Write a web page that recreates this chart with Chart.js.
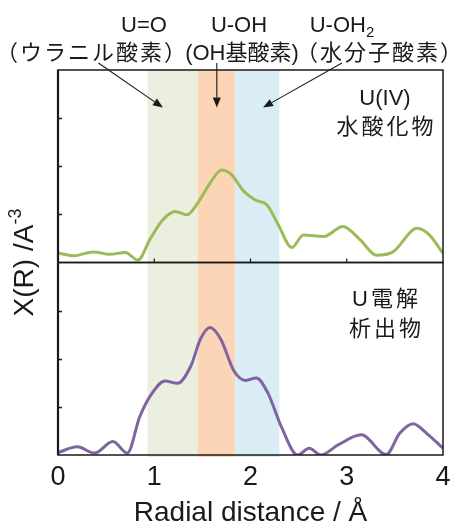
<!DOCTYPE html>
<html>
<head>
<meta charset="utf-8">
<script src="https://cdn.jsdelivr.net/npm/chart.js@4/dist/chart.umd.min.js"></script>
<style>
  html, body { margin: 0; padding: 0; background: #fff; }
  #wrap { width: 451px; height: 521px; position: relative; }
</style>
</head>
<body>
<div id="wrap"><canvas id="c" width="451" height="521"></canvas></div>
<script>
// Radial distribution |χ(R)| for the U(IV) hydroxide and the U electrodeposit
const radialU4 = [0, 0.16, 0.37, 0.54, 0.70, 0.83, 0.96, 1.09, 1.22, 1.34, 1.44, 1.58, 1.70, 1.80,
  1.93, 2.05, 2.17, 2.29, 2.43, 2.55, 2.76, 2.96, 3.14, 3.31, 3.48, 3.73, 3.86, 4.0];
const chiU4 = [0.20, 0.14, 0.22, 0.17, 0.21, 0.05, 0.50, 0.89, 1.06, 0.99, 1.20, 1.65, 1.92, 1.83,
  1.48, 1.30, 1.20, 0.78, 0.31, 0.57, 0.54, 0.75, 0.47, 0.15, 0.22, 0.71, 0.57, 0.19];

const radialDep = [0, 0.20, 0.38, 0.57, 0.72, 0.85, 0.98, 1.11, 1.24, 1.38, 1.48, 1.58, 1.69, 1.83,
  1.95, 2.06, 2.18, 2.32, 2.49, 2.61, 2.73, 2.91, 3.15, 3.41, 3.55, 3.69, 3.83, 4.0];
const chiDep = [0.05, 0.17, 0.04, 0.28, 0.04, 0.80, 1.29, 1.54, 1.49, 1.85, 2.41, 2.65, 2.41, 1.74,
  1.55, 1.60, 1.29, 0.59, 0.00, 0.14, 0.00, 0.21, 0.42, 0.01, 0.45, 0.65, 0.45, 0.14];

// Shell ranges (Å) for the three kinds of oxygen around U
const shellFrom = [0.93, 1.45, 1.84];
const shellTo = [1.45, 1.84, 2.30];
const bondLabels = ['U=O', 'U-OH', 'U-OH'];
const bondSubs = ['', '', '2'];
const siteLabels = ['（ウラニル酸素）', '(OH基酸素)', '（水分子酸素）'];
// where each arrow points (Å, χ) and where it leaves the caption (Å)
const arrowTipR = [1.09, 1.65, 2.13];
const arrowTipChi = [3.22, 3.22, 3.22];
const arrowTailR = [0.42, 1.65, 2.95];

const xTicks = [0, 1, 2, 3, 4];
const yTicks = [1, 2, 3];
const xTitle = 'Radial distance / Å';
const yTitle = 'X(R) /A';
const yTitleSup = '-3';
const panelU4 = ['U(IV)', '水酸化物'];
const panelDep = ['U電解', '析出物'];

const shellColors = ['#EBEFDF', '#FBD5B5', '#DBEDF4'];
const FONT = '"Liberation Sans", Arial, "Noto Sans CJK JP", sans-serif';
const INK = '#1a1a1a';

const shellBands = {
  id: 'shellBands',
  beforeDatasetsDraw(chart) {
    const { ctx, chartArea, scales } = chart;
    ctx.save();
    shellFrom.forEach((r0, i) => {
      const x0 = scales.x.getPixelForValue(r0);
      const x1 = scales.x.getPixelForValue(shellTo[i]);
      ctx.fillStyle = shellColors[i];
      ctx.fillRect(x0, chartArea.top, x1 - x0, chartArea.bottom - chartArea.top + 2);
    });
    ctx.restore();
  }
};

const frames = {
  id: 'frames',
  afterDatasetsDraw(chart) {
    const { ctx, chartArea, scales } = chart;
    const L = chartArea.left, R = chartArea.right;
    ctx.save();
    ctx.strokeStyle = INK;
    ctx.lineWidth = 1.5;
    ['yTop', 'yBot'].forEach(id => {
      const s = scales[id];
      ctx.strokeRect(L, s.top, R - L, s.bottom - s.top);
      yTicks.forEach(v => {
        const y = Math.round(s.getPixelForValue(v)) + 0.5;
        ctx.beginPath();
        ctx.moveTo(L, y);
        ctx.lineTo(L + 4, y);
        ctx.stroke();
      });
    });
    // heavier left spine
    ctx.lineWidth = 2.2;
    ctx.beginPath();
    ctx.moveTo(L, chartArea.top);
    ctx.lineTo(L, chartArea.bottom);
    ctx.stroke();
    // x ticks along the upper panel's base
    ctx.lineWidth = 1.2;
    const yb = scales.yTop.bottom;
    [1, 2, 3].forEach(v => {
      const x = scales.x.getPixelForValue(v);
      ctx.beginPath();
      ctx.moveTo(x, yb);
      ctx.lineTo(x, yb - 4);
      ctx.stroke();
    });
    ctx.restore();
  }
};

function arrow(ctx, x0, y0, x1, y1) {
  const a = Math.atan2(y1 - y0, x1 - x0);
  const hl = 10, hw = 4;
  const bx = x1 - hl * Math.cos(a), by = y1 - hl * Math.sin(a);
  ctx.beginPath();
  ctx.moveTo(x0, y0);
  ctx.lineTo(bx, by);
  ctx.stroke();
  ctx.beginPath();
  ctx.moveTo(x1, y1);
  ctx.lineTo(bx + hw * Math.sin(a), by - hw * Math.cos(a));
  ctx.lineTo(bx - hw * Math.sin(a), by + hw * Math.cos(a));
  ctx.closePath();
  ctx.fill();
}

const captions = {
  id: 'captions',
  afterDraw(chart) {
    const { ctx, chartArea, scales } = chart;
    ctx.save();
    ctx.fillStyle = INK;
    ctx.strokeStyle = INK;
    ctx.lineWidth = 1.1;

    // bond captions above the plot
    const bondX = [144, 239, 342];
    ctx.font = '22px ' + FONT;
    ctx.textBaseline = 'alphabetic';
    bondLabels.forEach((t, i) => {
      const w = ctx.measureText(t).width;
      ctx.font = '15px ' + FONT;
      const ws = bondSubs[i] ? ctx.measureText(bondSubs[i]).width : 0;
      ctx.font = '22px ' + FONT;
      const x = bondX[i] - (w + ws) / 2;
      ctx.textAlign = 'left';
      ctx.fillText(t, x, 32);
      if (bondSubs[i]) {
        ctx.font = '15px ' + FONT;
        ctx.fillText(bondSubs[i], x + w, 37);
        ctx.font = '22px ' + FONT;
      }
    });
    const siteX = [92, 242, 380];
    const siteSpacing = ['2px', '0px', '2px'];
    ctx.textAlign = 'center';
    ctx.font = '22px ' + FONT;
    siteLabels.forEach((t, i) => {
      ctx.letterSpacing = siteSpacing[i];
      ctx.fillText(t, siteX[i], 60);
    });
    ctx.letterSpacing = '0px';

    // arrows into the shell bands
    arrowTipR.forEach((r, i) => {
      const x1 = scales.x.getPixelForValue(r);
      const y1 = scales.yTop.getPixelForValue(arrowTipChi[i]);
      const x0 = scales.x.getPixelForValue(arrowTailR[i]);
      arrow(ctx, x0, chartArea.top - 7, x1, y1);
    });

    // sample names inside each panel
    ctx.textAlign = 'center';
    const cx = chartArea.right - 58;
    ctx.font = '22px ' + FONT;
    ctx.fillText(panelU4[0], cx, scales.yTop.top + 35);
    ctx.letterSpacing = '3px';
    ctx.fillText(panelU4[1], cx + 1.5, scales.yTop.top + 64);
    ctx.fillText(panelDep[0], cx + 1.5, scales.yBot.top + 43);
    ctx.fillText(panelDep[1], cx + 1.5, scales.yBot.top + 73);
    ctx.letterSpacing = '0px';

    // y title with superscript
    ctx.translate(33, (chartArea.top + chartArea.bottom) / 2);
    ctx.rotate(-Math.PI / 2);
    ctx.font = '28px ' + FONT;
    const wMain = ctx.measureText(yTitle).width;
    ctx.font = '18px ' + FONT;
    const wSup = ctx.measureText(yTitleSup).width;
    const start = -(wMain + wSup) / 2;
    ctx.textAlign = 'left';
    ctx.font = '28px ' + FONT;
    ctx.fillText(yTitle, start, 0);
    ctx.font = '18px ' + FONT;
    ctx.fillText(yTitleSup, start + wMain, -12);
    ctx.restore();
  }
};

const toPoints = (xs, ys) => xs.map((x, i) => ({ x, y: ys[i] }));

new Chart(document.getElementById('c'), {
  type: 'line',
  data: {
    datasets: [
      {
        label: 'U(IV) 水酸化物',
        data: toPoints(radialU4, chiU4),
        yAxisID: 'yTop',
        borderColor: '#9BBB59',
        borderWidth: 3,
        pointRadius: 0,
        tension: 0.4,
        cubicInterpolationMode: 'monotone'
      },
      {
        label: 'U電解析出物',
        data: toPoints(radialDep, chiDep),
        yAxisID: 'yBot',
        borderColor: '#8064A2',
        borderWidth: 3,
        pointRadius: 0,
        tension: 0.4,
        cubicInterpolationMode: 'monotone'
      }
    ]
  },
  options: {
    responsive: false,
    animation: false,
    events: [],
    layout: { padding: { left: 50, right: 8, top: 70, bottom: 0 } },
    plugins: { legend: { display: false }, tooltip: { enabled: false } },
    scales: {
      x: {
        type: 'linear',
        min: 0, max: 4,
        afterBuildTicks: s => { s.ticks = xTicks.map(v => ({ value: v })); },
        afterFit: s => { s.height = 66; s.paddingRight = 0; s.paddingLeft = 0; },
        grid: { display: false },
        border: { display: false },
        ticks: { color: INK, font: { family: FONT, size: 27, lineHeight: 1 }, padding: 1, maxRotation: 0 },
        title: { display: true, text: xTitle, color: INK, font: { family: FONT, size: 28, lineHeight: 1 }, padding: { top: 0, bottom: -6 } }
      },
      yBot: {
        type: 'linear', position: 'left', stack: 'panels', stackWeight: 1,
        min: 0, max: 4,
        ticks: { display: false }, grid: { display: false }, border: { display: false }
      },
      yTop: {
        type: 'linear', position: 'left', stack: 'panels', stackWeight: 1,
        min: 0, max: 4,
        ticks: { display: false }, grid: { display: false }, border: { display: false }
      }
    }
  },
  plugins: [shellBands, frames, captions]
});
</script>
</body>
</html>
